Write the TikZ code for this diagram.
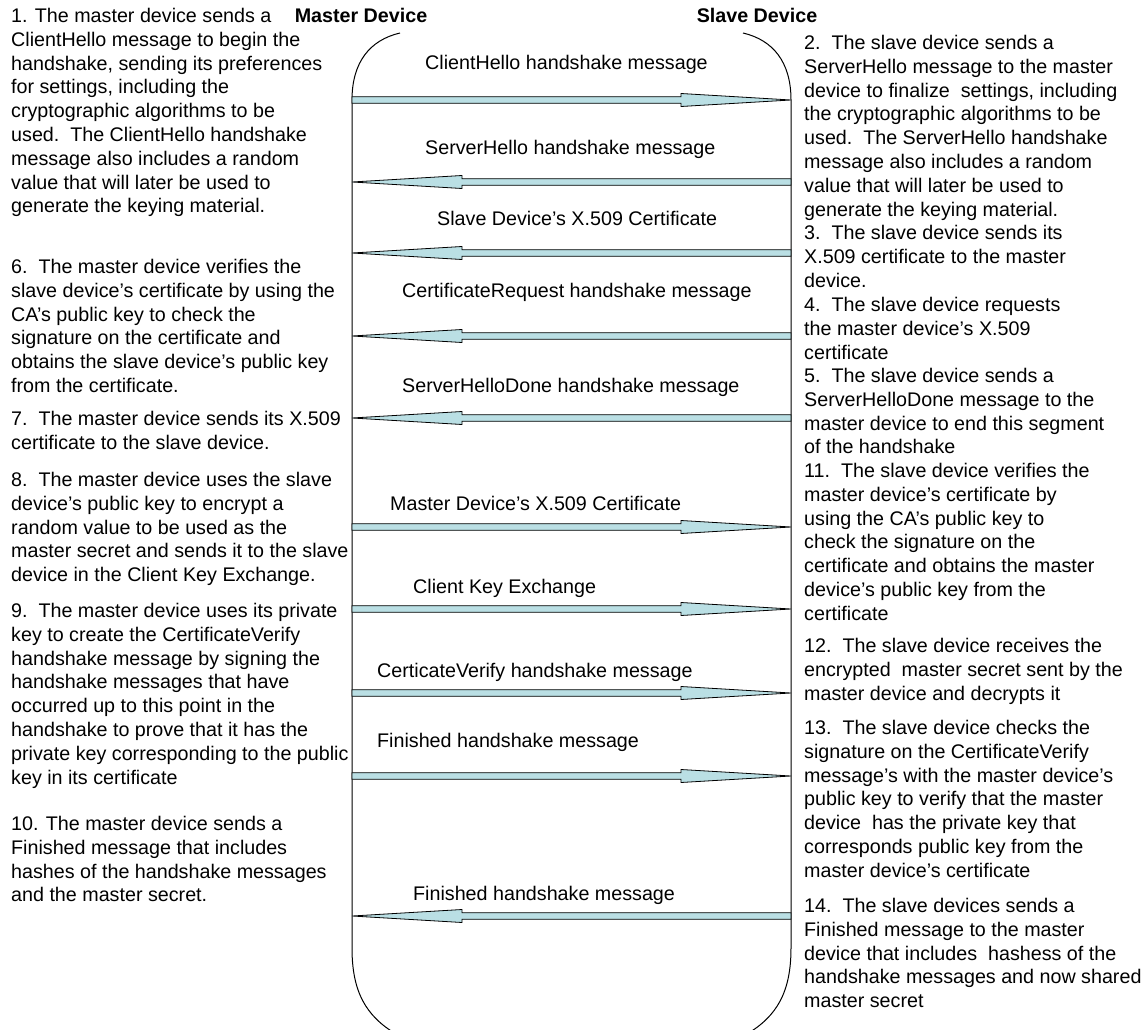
\documentclass[tikz,border=0pt]{standalone}
\usepackage{fontspec}
\setmainfont{Liberation Sans}
\usetikzlibrary{calc}

\definecolor{msgblue}{RGB}{186,223,228}
\newcommand{\hstext}{\fontsize{19.7}{23.8}\selectfont}
% block arrow from #1 to #2
\newcommand{\hsarrow}[2]{%
  \coordinate (hb) at ($(#2)!110pt!(#1)$);
  \filldraw[msg] ($(#1)!3.3pt!90:(#2)$) -- ($(hb)!3.3pt!90:(#2)$) -- ($(hb)!6.5pt!90:(#2)$) -- (#2)
    -- ($(hb)!6.5pt!-90:(#2)$) -- ($(hb)!3.3pt!-90:(#2)$) -- ($(#1)!3.3pt!-90:(#2)$) -- cycle;
}

\begin{document}
\begin{tikzpicture}[x=1pt,y=-1pt,
  note/.style={anchor=north west,align=left,inner sep=0pt,font=\hstext},
  lbl/.style={anchor=base west,inner sep=0pt,font=\hstext},
  dev/.style={anchor=base,inner sep=0pt,font=\hstext\bfseries},
  msg/.style={fill=msgblue,draw=black,line width=0.8pt}]
\useasboundingbox (0,0) rectangle (1146,1030);
% lifelines
\draw[line width=1pt] (400,33) .. controls (370,40) and (352,62) .. (352,100) -- (352,948) .. controls (352,992) and (366,1016) .. (396,1034);
\draw[line width=1pt] (743,33) .. controls (773,40) and (791,62) .. (791,100) -- (791,948) .. controls (791,992) and (777,1016) .. (747,1034);
\node[dev] (master) at (361,23) {Master Device};
\node[dev] (slave) at (757,23) {Slave Device};

\foreach \i/\y in {1/100,2/182,3/253,4/336,5/418,6/527,7/609,8/693,9/776,10/916} {
  \coordinate (m\i) at (352,\y);
  \coordinate (s\i) at (791,\y);
}

\hsarrow{m1}{s1}
\hsarrow{s2}{m2}
\hsarrow{s3}{m3}
\hsarrow{s4}{m4}
\hsarrow{s5}{m5}
\hsarrow{m6}{s6}
\hsarrow{m7}{s7}
\hsarrow{m8}{s8}
\hsarrow{m9}{s9}
\hsarrow{s10}{m10}

\node[lbl] (l1) at (425,70) {ClientHello handshake message};
\node[lbl] (l2) at (425,155) {ServerHello handshake message};
\node[lbl] (l3) at (437,225) {Slave Device's X.509 Certificate};
\node[lbl] (l4) at (402,297) {CertificateRequest handshake message};
\node[lbl] (l5) at (402,392) {ServerHelloDone handshake message};
\node[lbl] (l6) at (390,510) {Master Device's X.509 Certificate};
\node[lbl] (l7) at (413,593) {Client Key Exchange};
\node[lbl] (l8) at (377,677) {CerticateVerify handshake message};
\node[lbl] (l9) at (377,747) {Finished handshake message};
\node[lbl] (l10) at (413,900) {Finished handshake message};

% master side
\node[note] (n1) at (11,8) {1. The master device sends a\\ClientHello message to begin the\\handshake, sending its preferences\\for settings, including the\\cryptographic algorithms to be\\used.~~The ClientHello handshake\\message also includes a random\\value that will later be used to\\generate the keying material.};
\node[note] (n6) at (11,259) {6.~~The master device verifies the\\slave device's certificate by using the\\CA's public key to check the\\signature on the certificate and\\obtains the slave device's public key\\from the certificate.};
\node[note] (n7) at (11,411) {7.~~The master device sends its X.509\\certificate to the slave device.};
\node[note] (n8) at (11,472) {8.~~The master device uses the slave\\device's public key to encrypt a\\random value to be used as the\\master secret and sends it to the slave\\device in the Client Key Exchange.};
\node[note] (n9) at (11,603) {9.~~The master device uses its private\\key to create the CertificateVerify\\handshake message by signing the\\handshake messages that have\\occurred up to this point in the\\handshake to prove that it has the\\private key corresponding to the public\\key in its certificate};
\node[note] (n10) at (11,816) {10. The master device sends a\\Finished message that includes\\hashes of the handshake messages\\and the master secret.};

% slave side
\node[note] (n2) at (804,35) {2.~~The slave device sends a\\ServerHello message to the master\\device to finalize~~settings, including\\the cryptographic algorithms to be\\used.~~The ServerHello handshake\\message also includes a random\\value that will later be used to\\generate the keying material.};
\node[note] (n3) at (804,225) {3.~~The slave device sends its\\X.509 certificate to the master\\device.};
\node[note] (n4) at (804,297) {4.~~The slave device requests\\the master device's X.509\\certificate};
\node[note] (n5) at (804,368) {5.~~The slave device sends a\\ServerHelloDone message to the\\master device to end this segment\\of the handshake};
\node[note] (n11) at (804,463) {11.~~The slave device verifies the\\master device's certificate by\\using the CA's public key to\\check the signature on the\\certificate and obtains the master\\device's public key from the\\certificate};
\node[note] (n12) at (804,638) {12.~~The slave device receives the\\encrypted~~master secret sent by the\\master device and decrypts it};
\node[note] (n13) at (804,720) {13.~~The slave device checks the\\signature on the CertificateVerify\\message's with the master device's\\public key to verify that the master\\device~~has the private key that\\corresponds public key from the\\master device's certificate};
\node[note] (n14) at (804,898) {14.~~The slave devices sends a\\Finished message to the master\\device that includes~~hashess of the\\handshake messages and now shared\\master secret};
\end{tikzpicture}
\end{document}
